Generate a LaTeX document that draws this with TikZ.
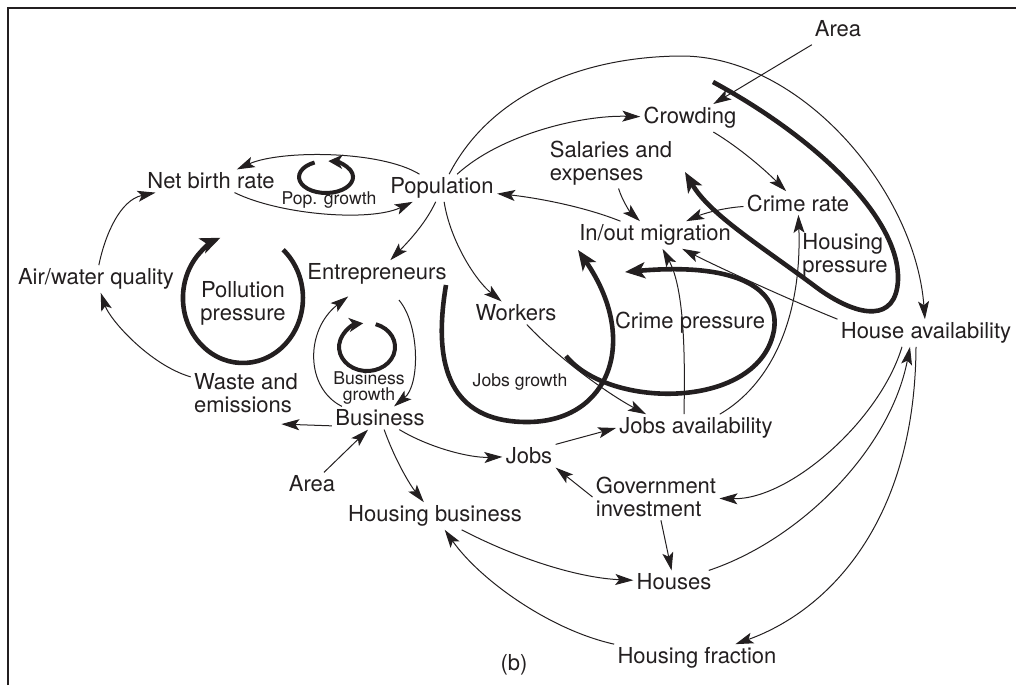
\documentclass[tikz,border=0pt]{standalone}
\usepackage{fontspec}
\setmainfont{TeX Gyre Heros}
\usepackage{tikz}
\usetikzlibrary{arrows.meta}
\definecolor{ink}{RGB}{35,31,32}
\tikzstyle{var} = [font=\fontsize{11}{11.5}\selectfont, text=ink, inner sep=1.5pt, align=left]
\tikzstyle{loopname} = [font=\fontsize{8.8}{7.6}\selectfont, text=ink, inner sep=1pt, align=center]
\tikzstyle{arrow} = [draw=ink, line width=0.5pt, -{Stealth[length=9pt, width=5.5pt, inset=2pt]}]
\tikzstyle{loopline} = [draw=ink, line width=2.3pt, -{Stealth[length=10pt, width=8pt, inset=2.5pt]}]
\tikzstyle{smallloop} = [draw=ink, line width=2pt, -{Stealth[length=7pt, width=7pt, inset=2pt]}]

\begin{document}
\begin{tikzpicture}[x=0.5pt, y=-0.5pt]

    \useasboundingbox (0,0) rectangle (1016,685);
    \draw [ink, line width=1pt] (8,685) -- (8,8) -- (1016,8);

    \node (areatop) [var] at (838,29) {Area};
    \node (crowd) [var] at (690,118) {Crowding};
    \node (sal) [var] at (611,163) {Salaries and\\expenses};
    \node (crimer) [var] at (798,203) {Crime rate};
    \node (pop) [var] at (442,188) {Population};
    \node (nbr) [var] at (211,181) {Net birth rate};
    \node (popgrowth) [loopname] at (329,200) {Pop. growth};
    \node (air) [var] at (96,279) {Air/water quality};
    \node (pollution) [var, align=center] at (243,303) {Pollution\\pressure};
    \node (entr) [var] at (377,274) {Entrepreneurs};
    \node (inout) [var] at (655,235) {In/out migration};
    \node (hpress) [var] at (845,255) {Housing\\pressure};
    \node (work) [var] at (516,313) {Workers};
    \node (cpress) [var] at (690,323) {Crime pressure};
    \node (havail) [var] at (926,333) {House availability};
    \node (waste) [var] at (246,393) {Waste and\\emissions};
    \node (busgrowth) [loopname] at (369,388) {Business\\growth};
    \node (jobsgrowth) [loopname] at (520,382) {Jobs growth};
    \node (bus) [var] at (380,418) {Business};
    \node (javail) [var] at (696,428) {Jobs availability};
    \node (jobs) [var] at (529,456) {Jobs};
    \node (areabus) [var] at (312,484) {Area};
    \node (gov) [var] at (656,497) {Government\\investment};
    \node (hbus) [var] at (435,516) {Housing business};
    \node (houses) [var] at (674,582) {Houses};
    \node (hfrac) [var] at (697,658) {Housing fraction};
    \node (tag) [var] at (514,665) {(b)};

    \draw [arrow] (pop) .. controls (380,150) and (280,150) .. (nbr);
    \draw [arrow] (nbr) .. controls (280,215) and (370,222) .. (pop);
    \draw [arrow] (air) .. controls (105,235) and (120,200) .. (nbr);
    \draw [arrow] (waste) .. controls (150,365) and (110,320) .. (air);
    \draw [arrow] (pop) .. controls (425,225) and (405,245) .. (entr);
    \draw [arrow] (pop) .. controls (450,240) and (475,280) .. (work);
    \draw [arrow] (pop) .. controls (500,135) and (580,115) .. (crowd);
    \draw [arrow] (pop) .. controls (490,95) and (580,57) .. (680,56) .. controls (800,55) and (915,190) .. (havail);
    \draw [arrow, shorten <=4pt] (areatop) -- (crowd);
    \draw [arrow] (crowd) .. controls (740,148) and (765,170) .. (crimer);
    \draw [arrow] (sal) .. controls (622,200) and (630,212) .. (inout);
    \draw [arrow] (crimer) .. controls (720,208) and (700,215) .. (inout);
    \draw [arrow] (inout) .. controls (580,205) and (530,197) .. (pop);
    \draw [arrow] (havail.north west) .. controls (790,300) and (720,268) .. (inout);
    \draw [arrow] ([xshift=-6pt]javail.north) .. controls (685,360) and (685,290) .. (inout);
    \draw [arrow] (javail) .. controls (770,385) and (802,320) .. (crimer);
    \draw [arrow] (work) .. controls (560,360) and (610,395) .. ([xshift=15pt]javail.north west);
    \draw [arrow, shorten <=8pt] (entr) .. controls (420,325) and (420,385) .. (bus);
    \draw [arrow, shorten >=7pt] ([xshift=5pt]bus.north west) .. controls (305,388) and (305,330) .. (entr);
    \draw [arrow] (bus.base west) -- ([xshift=-10pt, yshift=-4pt]waste.south east);
    \draw [arrow] (areabus) -- (bus);
    \draw [arrow] (bus) .. controls (395,460) and (410,485) .. (hbus);
    \draw [arrow] (bus) .. controls (430,448) and (470,458) .. (jobs);
    \draw [arrow] (jobs.north east) -- (javail.west);
    \draw [arrow] (gov.west) -- (jobs.south east);
    \draw [arrow] (gov) -- (houses);
    \draw [arrow] ([xshift=-12pt]havail.south) .. controls (880,420) and (790,500) .. (gov);
    \draw [arrow] (houses) .. controls (800,540) and (890,450) .. ([xshift=-8pt]havail.south);
    \draw [arrow] ([xshift=-5pt]havail.south) .. controls (915,520) and (830,610) .. (hfrac);
    \draw [arrow] (hbus) .. controls (520,560) and (580,578) .. (houses);
    \draw [arrow] (hfrac.north west) .. controls (550,630) and (480,580) .. (hbus);

    \draw [smallloop] (314.6,162.5) arc[start angle=245, end angle=-85, x radius=27, y radius=16];
    \draw [loopline] (283.1,249.7) arc[start angle=-48, end angle=248, x radius=60, y radius=65];
    \draw [smallloop] (375.7,324.2) arc[start angle=-72, end angle=262, x radius=28, y radius=24];
    \draw [loopline] (446,285) .. controls (430,380) and (460,422) .. (527,422) .. controls (610,422) and (640,340) .. (578,250);
    \draw [loopline] (566,356) .. controls (610,410) and (760,410) .. (774,330) .. controls (780,290) and (740,262) .. (625,272);
    \draw [loopline] (713,82) .. controls (820,140) and (900,220) .. (898,280) .. controls (896,322) and (860,318) .. (820,290) .. controls (760,245) and (710,215) .. (685,172);

\end{tikzpicture}
\end{document}
